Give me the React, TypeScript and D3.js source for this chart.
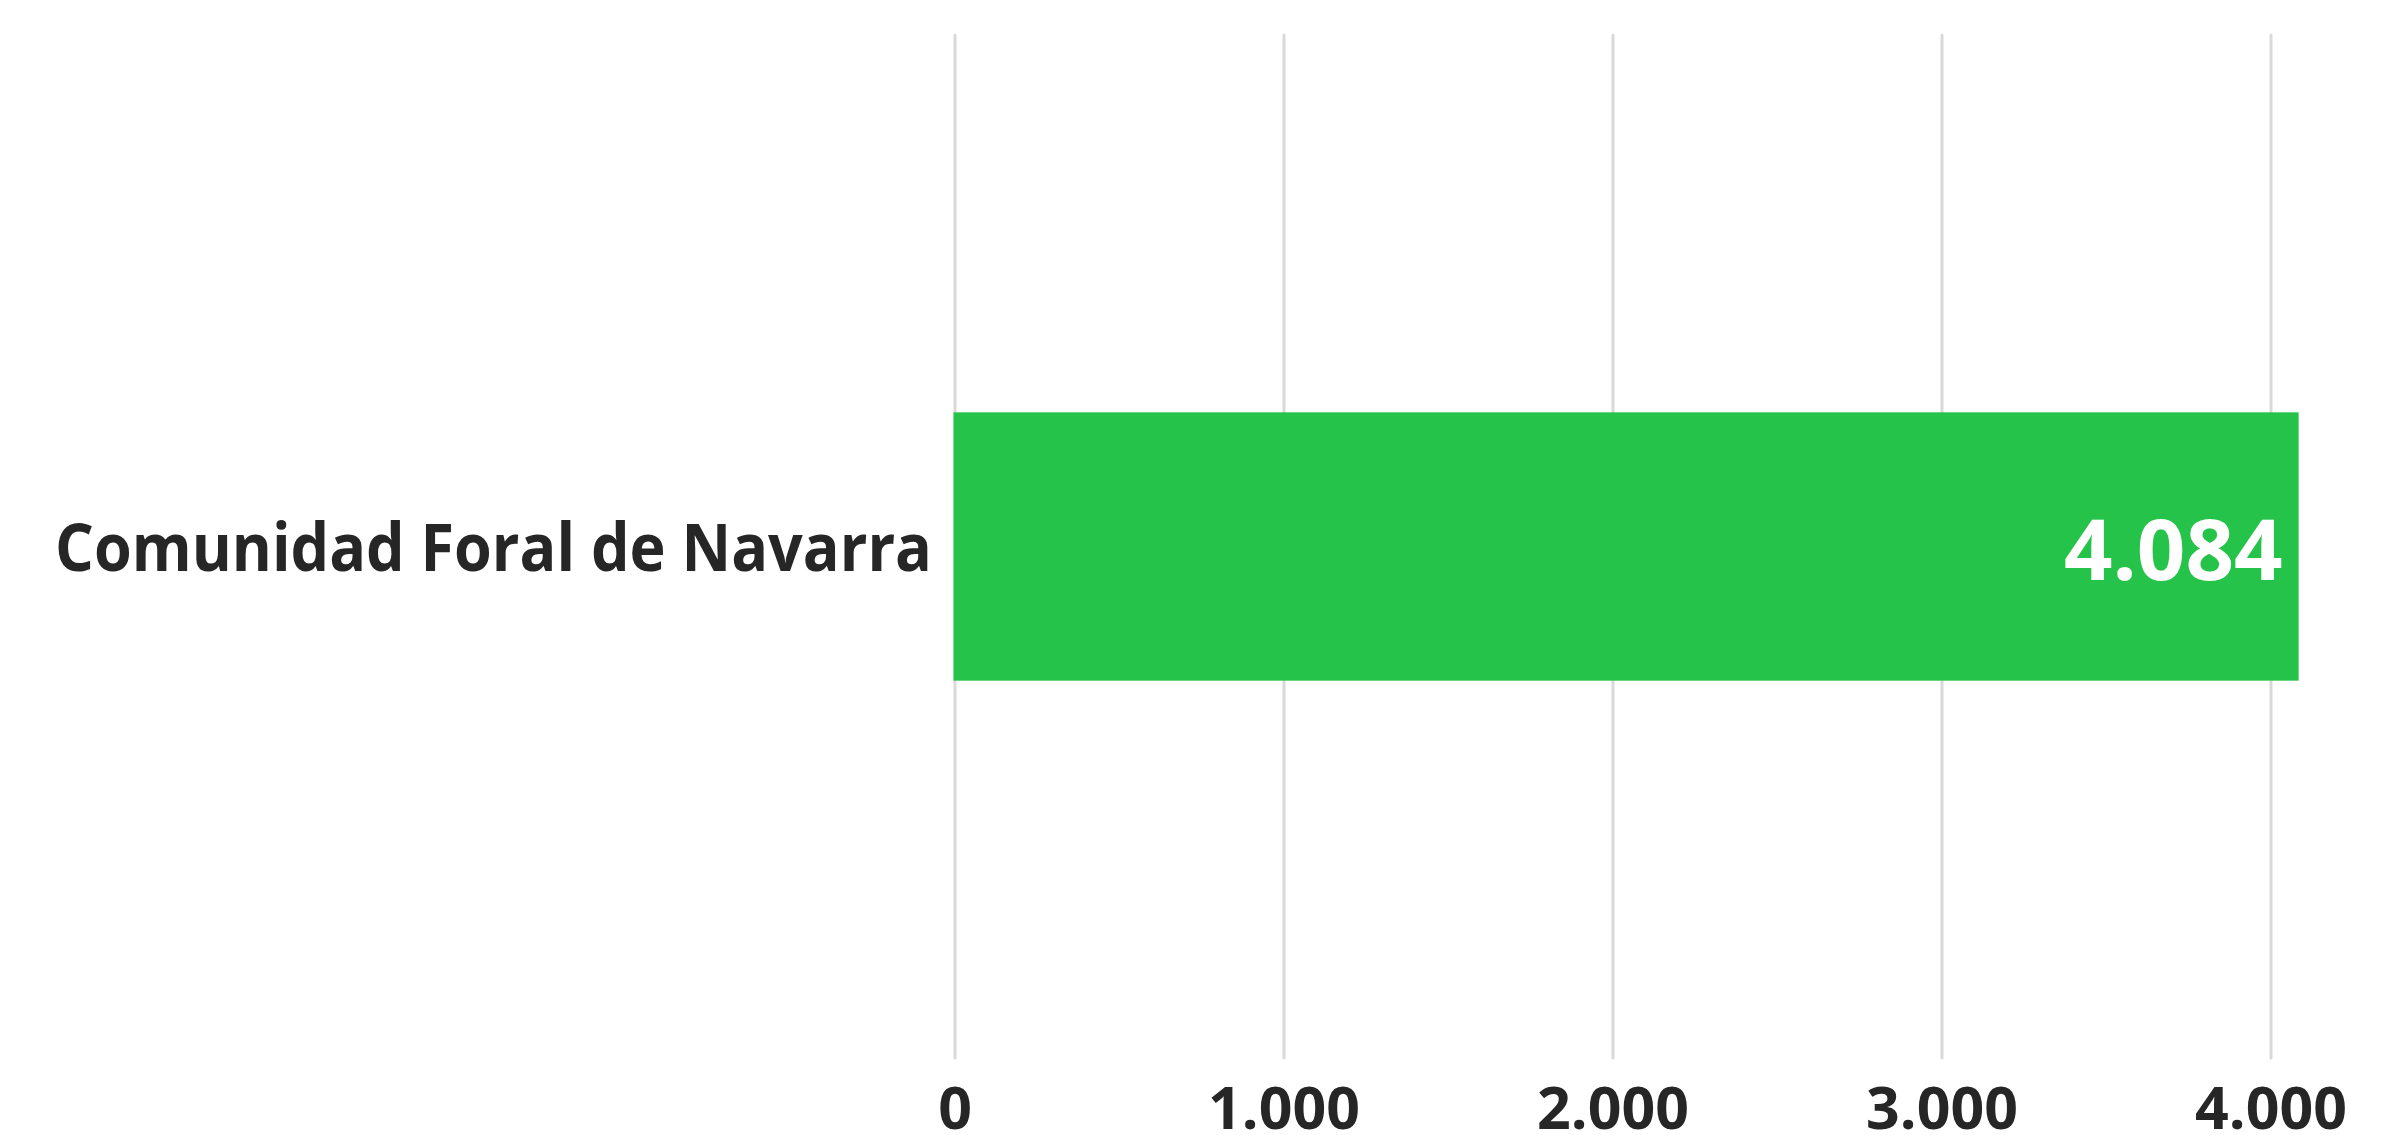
import React from "react";
import * as d3 from "d3";

const categories = ["Comunidad Foral de Navarra"];
const values = [4084];
const tickValues = [0, 1000, 2000, 3000, 4000];
const tickLabels = ["0", "1.000", "2.000", "3.000", "4.000"];

const W = 2392;
const H = 1135;
const FONT = "'Open Sans', 'Noto Sans', sans-serif";
const TEXT = "#262626";

export default function App() {
  const x = d3.scaleLinear().domain([0, 4000]).range([955, 2271]);
  const y = d3.scaleBand().domain(categories).range([34, 1059]).paddingInner(0).paddingOuter(1.41);
  const fmt = (v: number) => d3.format(",")(v).replace(/,/g, ".");

  return (
    <svg
      width={W}
      height={H}
      style={{ position: "absolute", left: 0, top: 0, background: "#fff" }}
      xmlns="http://www.w3.org/2000/svg"
    >
      <rect x={0} y={0} width={W} height={H} fill="#ffffff" />
      {tickValues.map((t, i) => (
        <g key={t}>
          <line
            x1={x(t)}
            x2={x(t)}
            y1={35}
            y2={1058}
            stroke="#d9d9d9"
            strokeWidth={3}
            strokeLinecap="round"
          />
          <text
            x={x(t)}
            y={1129}
            textAnchor="middle"
            fontFamily={FONT}
            fontWeight={700}
            fontSize={59}
            fill={TEXT}
          >
            {tickLabels[i]}
          </text>
        </g>
      ))}
      {categories.map((c, i) => {
        const y0 = y(c) as number;
        const bh = y.bandwidth();
        return (
          <g key={c}>
            <rect x={x(0) - 1.5} y={y0} width={x(values[i]) - x(0) + 1.5} height={bh} fill="#25C34A" />
            <text
              x={x(values[i]) - 16}
              y={y0 + bh / 2 + 33}
              textAnchor="end"
              fontFamily={FONT}
              fontWeight={700}
              fontSize={85}
              fill="#ffffff"
            >
              {fmt(values[i])}
            </text>
            <text
              x={55}
              y={y0 + bh / 2 + 24}
              textLength={877}
              lengthAdjust="spacingAndGlyphs"
              fontFamily={FONT}
              fontWeight={700}
              fontSize={67}
              fill={TEXT}
            >
              {c}
            </text>
          </g>
        );
      })}
    </svg>
  );
}
